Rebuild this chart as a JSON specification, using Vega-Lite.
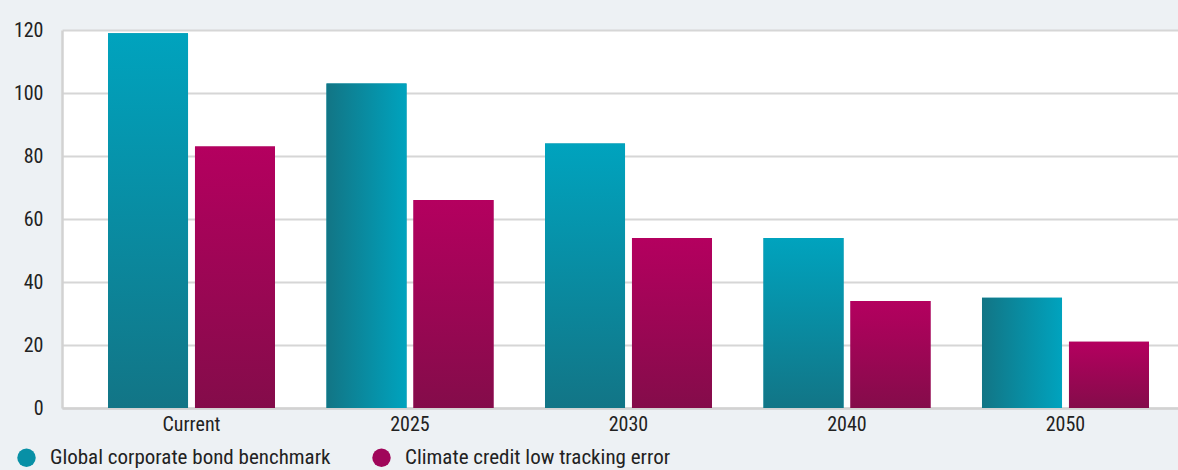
{
  "$schema": "https://vega.github.io/schema/vega-lite/v6.json",
  "autosize": {"type": "none"},
  "width": 1116,
  "height": 378,
  "padding": {"left": 62, "top": 30, "right": 0, "bottom": 62},
  "background": "#edf1f4",
  "config": {
    "font": "Roboto Condensed, DejaVu Sans Condensed, Liberation Sans Narrow, sans-serif",
    "view": {"fill": "#ffffff", "stroke": null}
  },
  "data": {
    "values": [
      {"cat": "Current", "series": "Global corporate bond benchmark", "value": 119},
      {"cat": "Current", "series": "Climate credit low tracking error", "value": 83},
      {"cat": "2025", "series": "Global corporate bond benchmark", "value": 103},
      {"cat": "2025", "series": "Climate credit low tracking error", "value": 66},
      {"cat": "2030", "series": "Global corporate bond benchmark", "value": 84},
      {"cat": "2030", "series": "Climate credit low tracking error", "value": 54},
      {"cat": "2040", "series": "Global corporate bond benchmark", "value": 54},
      {"cat": "2040", "series": "Climate credit low tracking error", "value": 34},
      {"cat": "2050", "series": "Global corporate bond benchmark", "value": 35},
      {"cat": "2050", "series": "Climate credit low tracking error", "value": 21}
    ]
  },
  "encoding": {
    "x": {
      "field": "cat",
      "type": "nominal",
      "sort": ["Current", "2025", "2030", "2040", "2050"],
      "scale": {"paddingInner": 0.2357, "paddingOuter": 0.17165, "align": 0.6133},
      "axis": {
        "title": null,
        "labelAngle": 0,
        "labelFontSize": 20,
        "labelColor": "#222222",
        "labelPadding": 6,
        "ticks": false,
        "domainColor": "#d2d2d2",
        "domainWidth": 2.5,
        "grid": false
      }
    },
    "xOffset": {
      "field": "series",
      "type": "nominal",
      "sort": ["Global corporate bond benchmark", "Climate credit low tracking error"],
      "scale": {"paddingInner": 0.08, "paddingOuter": 0}
    },
    "y": {
      "field": "value",
      "type": "quantitative",
      "scale": {"domain": [0, 120], "nice": false},
      "axis": {
        "title": null,
        "values": [0, 20, 40, 60, 80, 100, 120],
        "labelFontSize": 20,
        "labelColor": "#222222",
        "labelPadding": 19,
        "ticks": false,
        "domainColor": "#d2d2d2",
        "domainWidth": 2.5,
        "gridColor": "#d6d6d6",
        "gridWidth": 2
      }
    }
  },
  "layer": [
    {
      "mark": {"type": "bar"},
      "encoding": {
        "color": {
          "field": "series",
          "type": "nominal",
          "sort": ["Global corporate bond benchmark", "Climate credit low tracking error"],
          "scale": {"range": ["#0890a6", "#a0065a"]},
          "legend": {
            "title": null,
            "orient": "none",
            "direction": "horizontal",
            "legendX": -46,
            "legendY": 417,
            "symbolType": "circle",
            "symbolSize": 340,
            "symbolOpacity": 1,
            "labelFontSize": 21,
            "labelColor": "#222222",
            "labelLimit": 400,
            "labelOffset": 13,
            "columnPadding": 40,
            "encode": {
              "symbols": {
                "update": {
                  "fill": [
                    {"test": "datum.value === 'Global corporate bond benchmark'", "value": {"gradient": "linear", "x1": 0, "y1": 0, "x2": 1, "y2": 0, "stops": [{"offset": 0, "color": "#137686"}, {"offset": 1, "color": "#00a3be"}]}},
                    {"value": {"gradient": "linear", "x1": 0, "y1": 0, "x2": 1, "y2": 0, "stops": [{"offset": 0, "color": "#850c4a"}, {"offset": 1, "color": "#b3005f"}]}}
                  ],
                  "strokeWidth": {"value": 0}
                }
              }
            }
          }
        }
      }
    },
    {
      "mark": {"type": "bar"},
      "encoding": {
        "fill": {
          "condition": [
            {"test": "datum.series === 'Climate credit low tracking error'", "value": {"gradient": "linear", "x1": 0, "y1": 0, "x2": 0, "y2": 1, "stops": [{"offset": 0, "color": "#b4005f"}, {"offset": 1, "color": "#840c4a"}]}},
            {"test": "datum.cat === '2025' || datum.cat === '2050'", "value": {"gradient": "linear", "x1": 0, "y1": 0, "x2": 1, "y2": 0, "stops": [{"offset": 0, "color": "#127585"}, {"offset": 1, "color": "#00a3be"}]}}
          ],
          "value": {"gradient": "linear", "x1": 0, "y1": 0, "x2": 0, "y2": 1, "stops": [{"offset": 0, "color": "#00a3be"}, {"offset": 1, "color": "#127586"}]}
        }
      }
    }
  ]
}
